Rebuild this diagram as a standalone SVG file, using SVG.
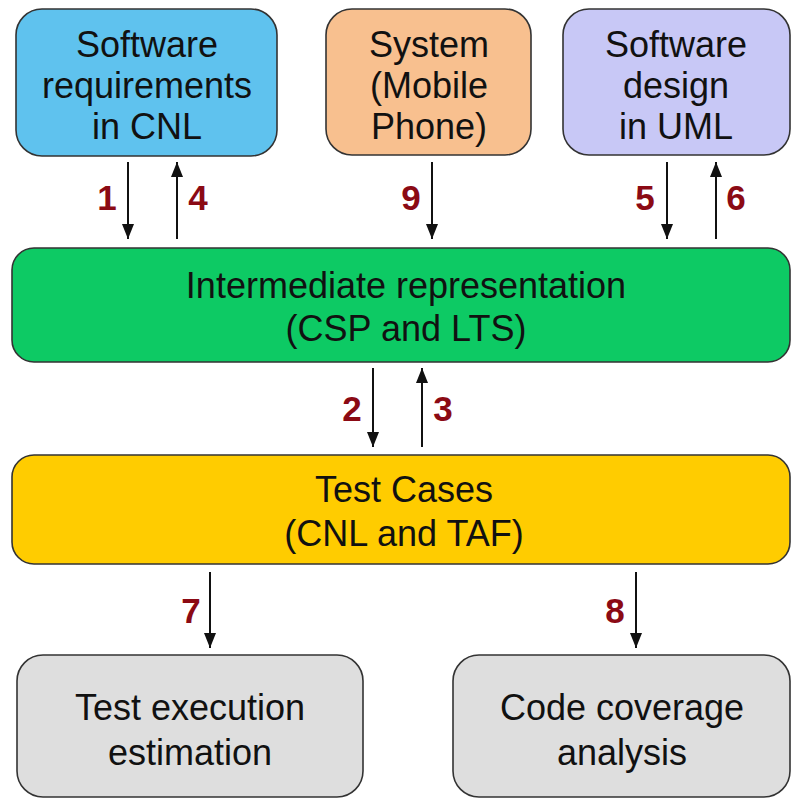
<svg xmlns="http://www.w3.org/2000/svg" width="793" height="798" viewBox="0 0 793 798">
<defs>
<style>
.box{stroke:#333;stroke-width:1.6}
.t{font-family:"Liberation Sans",Arial,sans-serif;font-size:36px;fill:#111;text-anchor:middle}
.n{font-family:"Liberation Sans",Arial,sans-serif;font-size:35px;font-weight:bold;fill:#8B0A14;text-anchor:middle}
.c{stroke:#111;stroke-width:2;fill:none;marker-end:url(#ah)}
</style>
<marker id="ah" markerUnits="userSpaceOnUse" markerWidth="16" markerHeight="12" refX="15" refY="6" orient="auto" overflow="visible">
<path d="M0,0 L15,6 L0,12 z" fill="#111"/>
</marker>
</defs>
<rect width="793" height="798" fill="#fff"/>
<g id="req">
<rect class="box" x="16" y="9" width="261" height="147" rx="26" fill="#5FC2EE"/>
<text class="t" x="147" y="57">Software</text>
<text class="t" x="147" y="98">requirements</text>
<text class="t" x="147" y="139">in CNL</text>
</g>
<g id="system">
<rect class="box" x="326" y="9" width="205" height="146" rx="26" fill="#F8C08F"/>
<text class="t" x="429" y="57">System</text>
<text class="t" x="429" y="98">(Mobile</text>
<text class="t" x="429" y="139">Phone)</text>
</g>
<g id="design">
<rect class="box" x="563" y="9" width="227" height="146" rx="26" fill="#C8C8F6"/>
<text class="t" x="676" y="57">Software</text>
<text class="t" x="676" y="98">design</text>
<text class="t" x="676" y="139">in UML</text>
</g>
<g id="ir">
<rect class="box" x="12" y="248" width="778" height="114" rx="22" fill="#0DCA64"/>
<text class="t" x="406" y="298">Intermediate representation</text>
<text class="t" x="406" y="341">(CSP and LTS)</text>
</g>
<g id="tests">
<rect class="box" x="12" y="455" width="778" height="109" rx="22" fill="#FFCC00"/>
<text class="t" x="404" y="502">Test Cases</text>
<text class="t" x="404" y="546">(CNL and TAF)</text>
</g>
<g id="estimation">
<rect class="box" x="17" y="655" width="346" height="142" rx="26" fill="#DEDEDE"/>
<text class="t" x="190" y="720">Test execution</text>
<text class="t" x="190" y="765">estimation</text>
</g>
<g id="coverage">
<rect class="box" x="453" y="655" width="337" height="142" rx="26" fill="#DEDEDE"/>
<text class="t" x="622" y="720">Code coverage</text>
<text class="t" x="622" y="765">analysis</text>
</g>
<g id="connectors">
<line class="c" x1="128" y1="162" x2="128" y2="239"/>
<line class="c" x1="177" y1="239" x2="177" y2="162"/>
<line class="c" x1="432" y1="162" x2="432" y2="239"/>
<line class="c" x1="667" y1="162" x2="667" y2="239"/>
<line class="c" x1="716" y1="239" x2="716" y2="162"/>
<line class="c" x1="373" y1="368" x2="373" y2="447"/>
<line class="c" x1="422" y1="447" x2="422" y2="368"/>
<line class="c" x1="210" y1="572" x2="210" y2="648"/>
<line class="c" x1="636" y1="572" x2="636" y2="648"/>
<text class="n" x="107" y="210">1</text>
<text class="n" x="198" y="210">4</text>
<text class="n" x="411" y="210">9</text>
<text class="n" x="645" y="210">5</text>
<text class="n" x="736" y="210">6</text>
<text class="n" x="352" y="421">2</text>
<text class="n" x="443" y="421">3</text>
<text class="n" x="191" y="623">7</text>
<text class="n" x="615" y="623">8</text>
</g>
</svg>
